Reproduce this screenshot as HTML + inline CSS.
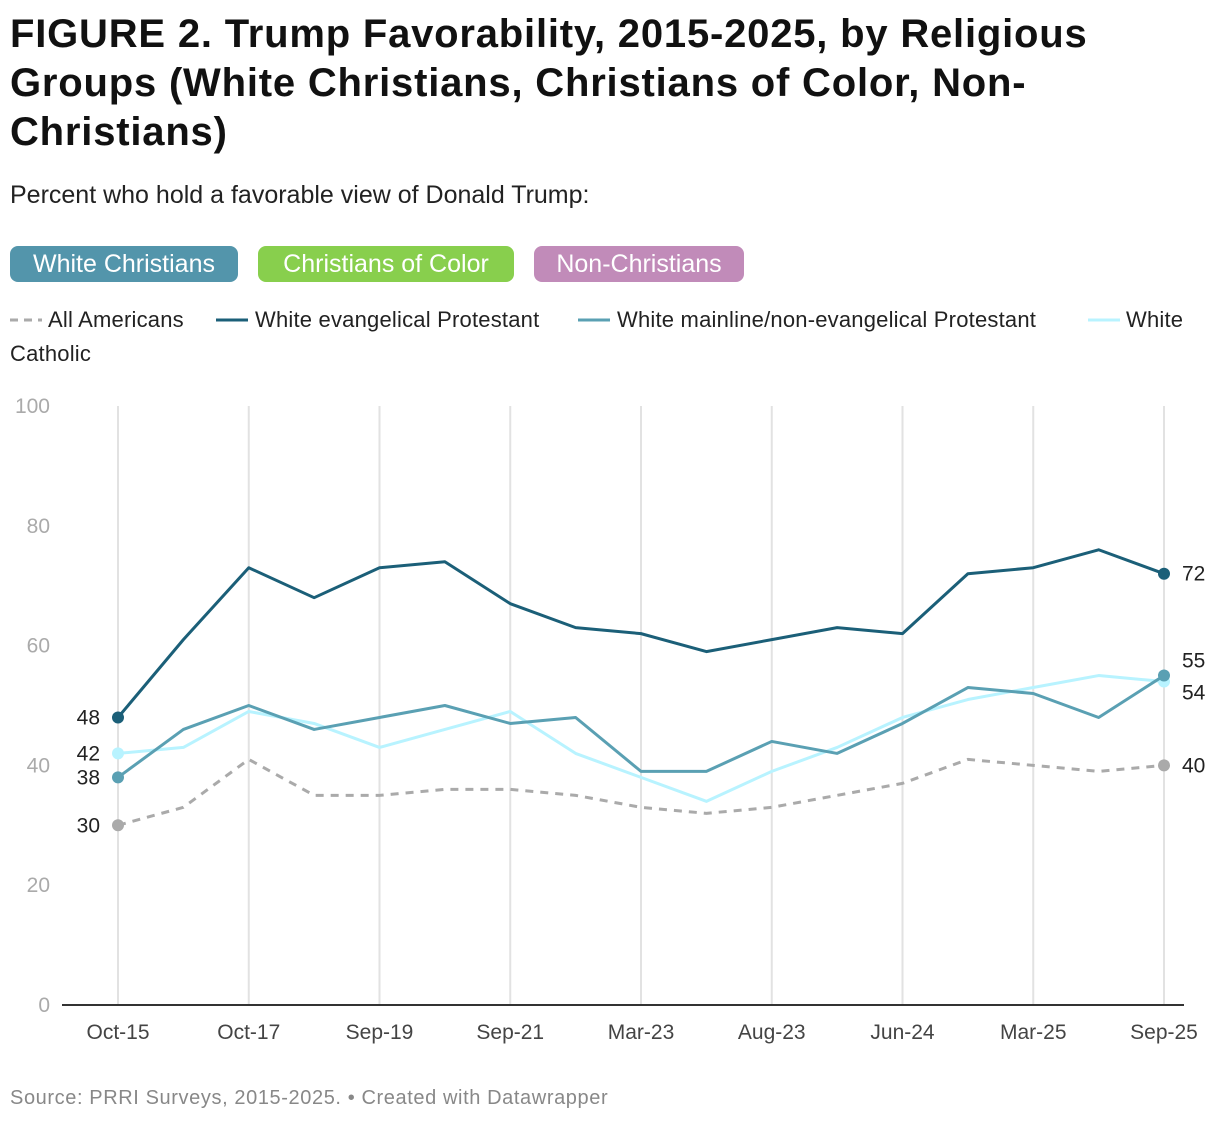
<!DOCTYPE html>
<html><head><meta charset="utf-8"><style>
body{margin:0;background:#fff;font-family:"Liberation Sans",Arial,sans-serif;color:#111;}
#wrap{position:relative;width:1220px;height:1124px;overflow:hidden}
h1{position:absolute;left:10px;top:10px;margin:0;font-size:40px;line-height:49px;font-weight:bold;width:1210px;letter-spacing:0.8px;white-space:nowrap}
.sub{position:absolute;left:10px;top:181px;font-size:25px;color:#222}
.pill{position:absolute;top:246px;height:36px;line-height:36px;border-radius:8px;color:#fff;font-size:25px;text-align:center}
.li{position:absolute;font-size:22px;color:#222;white-space:nowrap;letter-spacing:0.2px}
.src{position:absolute;left:10px;top:1087px;font-size:20px;color:#888;letter-spacing:0.6px}
</style></head><body><div id="wrap">
<h1>FIGURE 2. Trump Favorability, 2015-2025, by Religious<br>Groups (White Christians, Christians of Color, Non-<br>Christians)</h1>
<div class="sub">Percent who hold a favorable view of Donald Trump:</div>
<div class="pill" style="left:10px;width:228px;background:#5395ab">White Christians</div>
<div class="pill" style="left:258px;width:256px;background:#88cf4d">Christians of Color</div>
<div class="pill" style="left:534px;width:210px;background:#c18bb9">Non-Christians</div>
<svg width="1220" height="40" style="position:absolute;left:0;top:300px">
<line x1="10" y1="20" x2="42" y2="20" stroke="#aaa" stroke-width="3" stroke-dasharray="8,6"/>
<line x1="216" y1="20" x2="248" y2="20" stroke="#1b5f78" stroke-width="3"/>
<line x1="578" y1="20" x2="610" y2="20" stroke="#5aa0b3" stroke-width="3"/>
<line x1="1088" y1="20" x2="1120" y2="20" stroke="#b8f3ff" stroke-width="3"/>
</svg>
<div class="li" style="left:48px;top:307px">All Americans</div>
<div class="li" style="left:255px;top:307px">White evangelical Protestant</div>
<div class="li" style="left:617px;top:307px">White mainline/non-evangelical Protestant</div>
<div class="li" style="left:1126px;top:307px">White</div>
<div class="li" style="left:10px;top:341px">Catholic</div>
<svg id="chart" width="1220" height="1124" style="position:absolute;left:0;top:0"></svg>
<div class="src">Source: PRRI Surveys, 2015-2025. • Created with Datawrapper</div>
</div>
<script>
const categories=["Oct-15","Aug-16","Oct-17","Sep-18","Sep-19","Sep-20","Sep-21","Jun-22","Mar-23","Jun-23","Aug-23","Jan-24","Jun-24","Oct-24","Mar-25","Jun-25","Sep-25"];
const tickLabels=["Oct-15","Oct-17","Sep-19","Sep-21","Mar-23","Aug-23","Jun-24","Mar-25","Sep-25"];
const yTicks=[0,20,40,60,80,100];
const allAmericans=[30,33,41,35,35,36,36,35,33,32,33,35,37,41,40,39,40];
const evangelical=[48,61,73,68,73,74,67,63,62,59,61,63,62,72,73,76,72];
const mainline=[38,46,50,46,48,50,47,48,39,39,44,42,47,53,52,48,55];
const catholic=[42,43,49,47,43,46,49,42,38,34,39,43,48,51,53,55,54];
const svg=document.getElementById('chart');const NS="http://www.w3.org/2000/svg";
const x0=118,x1=1164,y0=1005,y1=406;
const xs=i=>x0+(x1-x0)*i/(categories.length-1);
const ys=v=>y0-(y0-y1)*v/100;
function mk(t,a){const e=document.createElementNS(NS,t);for(const k in a)e.setAttribute(k,a[k]);svg.appendChild(e);return e;}
yTicks.forEach(v=>{const t=mk('text',{x:50,y:ys(v)+7,'text-anchor':'end','font-size':21,fill:'#aaa'});t.textContent=v;

});
tickLabels.forEach(l=>{const i=categories.indexOf(l);
const g=mk('line',{x1:xs(i),x2:xs(i),y1:y1,y2:y0,stroke:'#e2e2e2','stroke-width':2});


const t=mk('text',{x:xs(i),y:1039,'text-anchor':'middle','font-size':21,fill:'#444'});t.textContent=l;

});
const ax=mk('line',{x1:62,x2:1184,y1:y0,y2:y0,stroke:'#333','stroke-width':2});


const series=[[allAmericans,'#aaa','8,7','all-americans'],[catholic,'#b8f3ff','','catholic'],[mainline,'#5aa0b3','','mainline'],[evangelical,'#1b5f78','','evangelical']];
series.forEach(([d,c,da,n])=>{const p=mk('polyline',{points:d.map((v,i)=>xs(i)+','+ys(v)).join(' '),fill:'none',stroke:c,'stroke-width':3,'stroke-dasharray':da,'stroke-linejoin':'round'});


[0,d.length-1].forEach(i=>{
const ci=mk('circle',{cx:xs(i),cy:ys(d[i]),r:6,fill:c});

});});
function lab(x,y,txt,anchor){const t=mk('text',{x:x,y:y,'text-anchor':anchor,'font-size':21,fill:'#222'});t.textContent=txt;

}
[evangelical,catholic,mainline,allAmericans].forEach(d=>lab(100,ys(d[0])+7,d[0],'end'));
const n=categories.length-1;
lab(1182,ys(evangelical[n])+7,evangelical[n],'start');
lab(1182,ys(mainline[n])-8,mainline[n],'start');
lab(1182,ys(catholic[n])+18,catholic[n],'start');
lab(1182,ys(allAmericans[n])+7,allAmericans[n],'start');
</script></body></html>
